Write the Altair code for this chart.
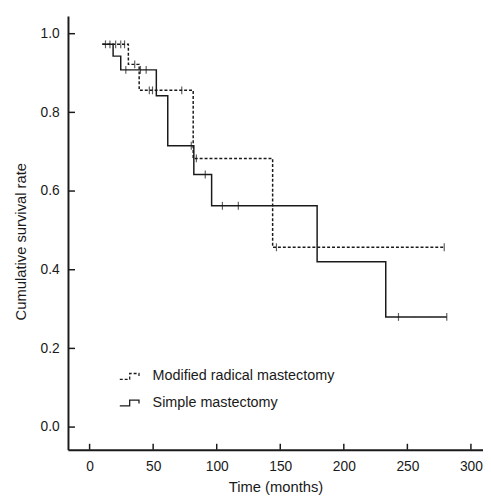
import altair as alt
import pandas as pd

# Kaplan-Meier step curves (time in months, cumulative survival)
mod_t = [10, 30.5, 39, 81.5, 144, 279]
mod_s = [0.973, 0.922, 0.856, 0.683, 0.457, 0.457]
sim_t = [10, 18.5, 24.5, 52.5, 61.5, 82, 96, 179, 233, 281]
sim_s = [0.973, 0.943, 0.908, 0.842, 0.715, 0.642, 0.5625, 0.42, 0.28, 0.28]

# censored observations
mod_ct = [20.5, 24.5, 27.5, 35.5, 47, 49.5, 72.5, 84, 147, 279]
mod_cs = [0.973, 0.973, 0.973, 0.922, 0.856, 0.856, 0.856, 0.683, 0.457, 0.457]
sim_ct = [12.5, 16, 28.5, 40, 44.5, 80, 91, 104.5, 117, 243, 281]
sim_cs = [0.973, 0.973, 0.908, 0.908, 0.908, 0.715, 0.642, 0.5625, 0.5625, 0.28, 0.28]

groups = ["Modified radical mastectomy", "Simple mastectomy"]
x_ticks = [0, 50, 100, 150, 200, 250, 300]
y_ticks = [0.0, 0.2, 0.4, 0.6, 0.8, 1.0]

X_DOM = [-17, 309.5]
Y_DOM = [-0.0575, 1.045]
FONT = "Liberation Sans"
INK = "#1a1a1a"

curves = pd.DataFrame(
    {"t": mod_t + sim_t, "s": mod_s + sim_s,
     "g": [groups[0]] * len(mod_t) + [groups[1]] * len(sim_t)}
)
cens = pd.DataFrame(
    {"t": mod_ct + sim_ct, "s": mod_cs + sim_cs,
     "g": [groups[0]] * len(mod_ct) + [groups[1]] * len(sim_ct)}
)
xt = pd.DataFrame({"v": x_ticks, "y0": Y_DOM[0], "y1": Y_DOM[0] + 0.015})
yt = pd.DataFrame({"v": y_ticks, "x0": X_DOM[0], "x1": X_DOM[0] + 5.5})

xs = alt.Scale(domain=X_DOM, nice=False, zero=False)
ys = alt.Scale(domain=Y_DOM, nice=False, zero=False)

x_axis = alt.Axis(values=x_ticks, title="Time (months)", ticks=False, grid=False,
                  labelPadding=10, titlePadding=7, titleFontSize=15)
y_axis = alt.Axis(values=y_ticks, format=".1f", title="Cumulative survival rate",
                  ticks=False, grid=False, labelPadding=9, titlePadding=12,
                  titleFontSize=15, titleY=229)

step_path = "M-1,0.25L-0.15,0.25L-0.15,-0.25L0.65,-0.25L0.65,0.05"

lines = alt.Chart(curves).mark_line(
    interpolate="step-after", color=INK, strokeWidth=1.5
).encode(
    x=alt.X("t:Q", scale=xs, axis=x_axis),
    y=alt.Y("s:Q", scale=ys, axis=y_axis),
    strokeDash=alt.StrokeDash(
        "g:N",
        scale=alt.Scale(domain=groups, range=[[3, 2], [1, 0]]),
        legend=alt.Legend(
            title=None, orient="none", legendX=52, legendY=354,
            symbolType=step_path, symbolSize=560, symbolStrokeWidth=1.3,
            symbolStrokeColor=INK, labelFontSize=14.6, labelFont=FONT,
            labelColor=INK, labelOffset=9, rowPadding=7, labelLimit=0,
        ),
    ),
    detail="g:N",
)

ticks = alt.Chart(cens).mark_tick(
    orient="vertical", size=8, thickness=1.2, color=INK
).encode(
    x=alt.X("t:Q", scale=xs),
    y=alt.Y("s:Q", scale=ys),
)

xtick = alt.Chart(xt).mark_rule(color=INK, strokeWidth=1.5).encode(
    x=alt.X("v:Q", scale=xs),
    y=alt.Y("y0:Q", scale=ys),
    y2="y1:Q",
)
ytick = alt.Chart(yt).mark_rule(color=INK, strokeWidth=1.5).encode(
    y=alt.Y("v:Q", scale=ys),
    x=alt.X("x0:Q", scale=xs),
    x2="x1:Q",
)

chart = alt.layer(lines, ticks, xtick, ytick).properties(
    width=422, height=441,
    autosize=alt.AutoSizeParams(type="none"),
    padding={"left": 61, "top": 4, "right": 0, "bottom": 45},
).configure_view(stroke=None).configure_axis(
    labelFont=FONT, titleFont=FONT, labelFontSize=14, titleFontSize=14,
    titleFontWeight="normal", labelColor=INK, titleColor=INK,
    domainColor=INK, domainWidth=2,
)

chart.save("out.html", embed_options={"renderer": "svg", "actions": False})
